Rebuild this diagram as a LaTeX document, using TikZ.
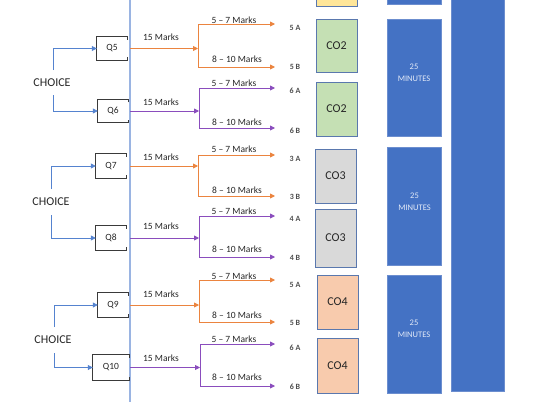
\documentclass[tikz,border=0pt]{standalone}
\usepackage{fontspec}
\setmainfont{Carlito}
\usetikzlibrary{arrows.meta}
\definecolor{orq}{HTML}{EB843F}
\definecolor{pur}{HTML}{8A4DBD}
\definecolor{chb}{HTML}{5583CF}
\definecolor{vln}{HTML}{9AB4E2}
\definecolor{bfill}{HTML}{4472C4}
\definecolor{bdraw}{HTML}{6C8ECF}
\definecolor{cgreen}{HTML}{C5E0B4}
\definecolor{cgray}{HTML}{D9D9D9}
\definecolor{corange}{HTML}{F8CBAD}
\definecolor{cyellow}{HTML}{FFE699}
\definecolor{cdraw}{HTML}{5A78AE}
\definecolor{txt}{HTML}{262626}
\definecolor{qdraw}{HTML}{3A3A3A}
\definecolor{mint}{HTML}{E3EAF7}
\tikzset{
  arr/.style={line width=0.85pt,-{Triangle[length=5pt,width=5pt]}},
  brline/.style={line width=0.85pt},
  lbl/.style={font=\fontsize{9.5}{11}\selectfont,text=txt,inner sep=0},
  ab/.style={font=\fontsize{8}{9}\selectfont\bfseries,text=qdraw!90,inner sep=0},
  qbox/.style={minimum width=30pt,minimum height=23pt,inner sep=0,font=\fontsize{9.5}{11}\selectfont,text=txt},
  qline/.style={draw=qdraw,line width=0.9pt},
  choice/.style={font=\fontsize{12}{14}\selectfont,text=txt,inner sep=0},
  cobox/.style={draw=cdraw,line width=0.9pt,minimum width=41pt,inner sep=0,font=\fontsize{12}{14}\selectfont,text=txt},
  minbox/.style={draw=bdraw,fill=bfill,line width=0.8pt,minimum width=54pt,inner sep=0},
  mintxt/.style={font=\fontsize{8.5}{12}\selectfont,text=mint,align=center,inner sep=0},
  chline/.style={draw=chb,line width=0.8pt},
  charr/.style={chline,-{Triangle[length=5pt,width=5pt]}}
}
\begin{document}
\begin{tikzpicture}[x=1pt,y=-1pt]
\useasboundingbox (0,0) rectangle (548,407);
\clip (0,0) rectangle (548,407);
% vertical line
\coordinate (vtop) at (130,0);
\coordinate (vbot) at (130,402);
\draw[draw=vln,line width=1.5pt] (vtop) -- (vbot);
% Q boxes
\node[qbox] (q5) at (112,48.5) {Q5};
\node[qbox] (q6) at (113,111) {Q6};
\node[qbox,minimum height=24pt] (q7) at (111,166) {Q7};
\node[qbox,minimum height=24pt] (q8) at (111,238) {Q8};
\node[qbox,minimum height=24pt] (q9) at (113,305) {Q9};
\node[qbox,minimum width=36pt,minimum height=25pt] (q10) at (111,367.5) {Q10};
\foreach \n in {q5,q6,q7,q8,q9,q10}{
  \draw[qline] ([yshift=-3pt]\n.north east) -- (\n.north east) -- (\n.north west) -- (\n.south west) -- (\n.south east) -- ([yshift=3pt]\n.south east);
}
% CHOICE
\node[choice] (ch1) at (52,83) {CHOICE};
\node[choice] (ch2) at (51,202) {CHOICE};
\node[choice] (ch3) at (53,340) {CHOICE};
\coordinate (c1a) at (53,70); \coordinate (c1b) at (53,95);
\coordinate (c2a) at (51,189); \coordinate (c2b) at (51,215);
\coordinate (c3a) at (54,327); \coordinate (c3b) at (54,353);
\draw[charr] (c1a) |- (q5.west);
\draw[charr] (c1b) |- (q6.west);
\draw[charr] (c2a) |- (q7.west);
\draw[charr] (c2b) |- (q8.west);
\draw[charr] (c3a) |- (q9.west);
\draw[charr] (c3b) |- (q10.west);
% groups
\foreach \q/\col/\bx/\ty/\by/\fy/\tly/\bly/\at/\ay/\bt/\byy in {
  q5/orq/198/24/67/37/20/59/5 A/28/5 B/67,
  q6/pur/199/88/128/102/83/122/6 A/91/6 B/131,
  q7/orq/198/155/196/157/149/190/3 A/159/3 B/197,
  q8/pur/199/216/257/226/211/249/4 A/219/4 B/258,
  q9/orq/199/280/322/294/276/315/5 A/285/5 B/323,
  q10/pur/200/344/386/358/339/377/6 A/348/6 B/387}{
  \coordinate (t\q) at (\bx,\ty);
  \coordinate (u\q) at (\bx,\by);
  \coordinate (te\q) at (275,\ty);
  \coordinate (ue\q) at (275,\by);
  \draw[\col,brline] (t\q) -- (u\q);
  \draw[\col,arr] (t\q) -- (te\q);
  \draw[\col,arr] (u\q) -- (ue\q);
  \draw[\col,arr] (\q.center -| vtop) -- (\q.center -| t\q);
  \node[lbl] (m\q) at (161,\fy) {15 Marks};
  \node[lbl] (s\q) at (234,\tly) {5 – 7 Marks};
  \node[lbl] (e\q) at (237,\bly) {8 – 10 Marks};
  \node[ab] (a\q) at (295,\ay) {\at};
  \node[ab] (z\q) at (295,\byy) {\bt};
}
% CO boxes
\node[cobox,fill=cyellow,minimum height=30pt] (co1) at (336.5,-9) {};
\node[cobox,fill=cgreen,minimum height=53pt] (co2a) at (336.5,45.5) {CO2};
\node[cobox,fill=cgreen,minimum height=54pt] (co2b) at (336.5,109) {CO2};
\node[cobox,fill=cgray,minimum height=54pt] (co3a) at (335.5,176) {CO3};
\node[cobox,fill=cgray,minimum height=58pt] (co3b) at (335.5,238) {CO3};
\node[cobox,fill=corange,minimum height=54pt] (co4a) at (337.5,302) {CO4};
\node[cobox,fill=corange,minimum height=55pt] (co4b) at (337.5,365.5) {CO4};
% minute boxes
\node[minbox,minimum height=30pt] (m0) at (414,-11) {};
\node[minbox,minimum height=117pt] (m1) at (414,77.5) {};
\node[minbox,minimum height=118pt] (m2) at (414.5,206) {};
\node[minbox,minimum height=118pt] (m3) at (414,334) {};
\node[mintxt] (t1) at (414,73) {25\\MINUTES};
\node[mintxt] (t2) at (414.5,202) {25\\MINUTES};
\node[mintxt] (t3) at (414,329) {25\\MINUTES};
\node[minbox,minimum width=53pt,minimum height=420pt] (big) at (477.5,181) {};
\end{tikzpicture}
\end{document}
